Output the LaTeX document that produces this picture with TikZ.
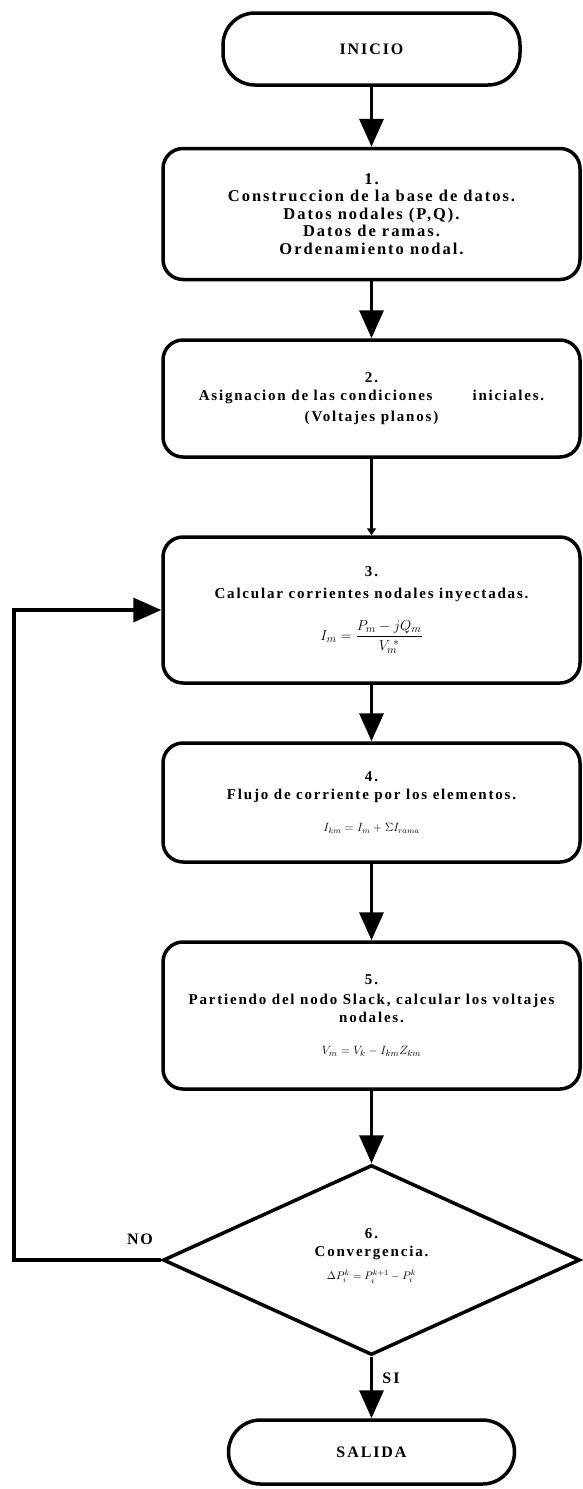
\documentclass[tikz,border=0pt]{standalone}
\usepackage{fontspec}
\usepackage{amsmath}
\setmainfont{Liberation Serif}
\newfontfamily\bx{Liberation Serif}[LetterSpace=12]
\usetikzlibrary{arrows.meta,shapes.geometric}
\begin{document}
\begin{tikzpicture}[x=1pt,y=-1pt,
  lw/.style={line width=3.5pt},
  box/.style={draw, lw, rounded corners=20pt, minimum width=417pt, align=center, inner sep=2pt,
    font=\bx\bfseries\fontsize{15}{18}\selectfont},
  term/.style={draw, lw, rounded corners=32pt, align=center,
    font=\bx\bfseries\fontsize{16}{19}\selectfont},
  arr/.style={lw, -{Triangle[width=24pt,length=28pt]}},
  smallarr/.style={lw, -{Triangle[width=9pt,length=7pt]}},
  lbl/.style={font=\bx\bfseries\fontsize{16}{19}\selectfont, inner sep=0pt},
  txt/.style={align=center, font=\bx\bfseries\fontsize{15}{18}\selectfont, inner sep=0pt}
]
\useasboundingbox (0,0) rectangle (583,1489);

\node[term, minimum width=297pt, minimum height=72pt] (ini) at (371.5,49) {INICIO};

\node[box, minimum height=131pt, font=\bx\bfseries\fontsize{16.5}{17.5}\selectfont] (b1) at (371.5,214)
  {1.\\Construccion de la base de datos.\\Datos nodales (P,Q).\\Datos de ramas.\\Ordenamiento nodal.};

\node[box, minimum height=117pt] (b2) at (371.5,398.5)
  {2.\\Asignacion de las condiciones\hspace{40pt}iniciales.\\[3pt](Voltajes planos)};

\node[box, minimum height=146pt] (b3) at (371.5,610)
  {3.\\[4pt]Calcular corrientes nodales inyectadas.\\[18pt]
   {\fontsize{15}{18}\selectfont $I_m=\dfrac{P_m-jQ_m}{V_m^{\;*}}$}};

\node[box, minimum height=119pt] (b4) at (371.5,802.5)
  {4.\\Flujo de corriente por los elementos.\\[14pt]
   {\fontsize{12}{14}\selectfont $I_{km}=I_m+\Sigma I_{rama}$}};

\node[box, minimum height=147pt] (b5) at (371.5,1015.5)
  {5.\\[2pt]Partiendo del nodo Slack, calcular los voltajes\\nodales.\\[14pt]
   {\fontsize{12.5}{15}\selectfont $V_m=V_k-I_{km}Z_{km}$}};

\node[draw, lw, diamond, minimum width=417pt, minimum height=190pt, inner sep=0pt] (dec) at (371.5,1260) {};
\node[txt] (dect) at (371.5,1256)
  {6.\\[0pt]Convergencia.\\[5pt]{\fontsize{11}{13}\selectfont $\Delta P_i^k=P_i^{k+1}-P_i^k$}};

\node[term, minimum width=286pt, minimum height=64pt] (sal) at (371.5,1452) {SALIDA};

\coordinate (c1) at (14,1260);

\draw[arr] (ini) -- (b1);
\draw[arr] (b1) -- (b2);
\draw[smallarr] (b2) -- (b3);
\draw[arr] (b3) -- (b4);
\draw[arr] (b4) -- (b5);
\draw[arr] (b5) -- (dec);
\draw[arr] (dec) -- (sal);
\draw[arr] (dec.west) -- (c1) |- (b3.west);

\node[lbl] (no) at (140,1239) {NO};
\node[lbl] (si) at (391,1378) {SI};
\end{tikzpicture}
\end{document}
